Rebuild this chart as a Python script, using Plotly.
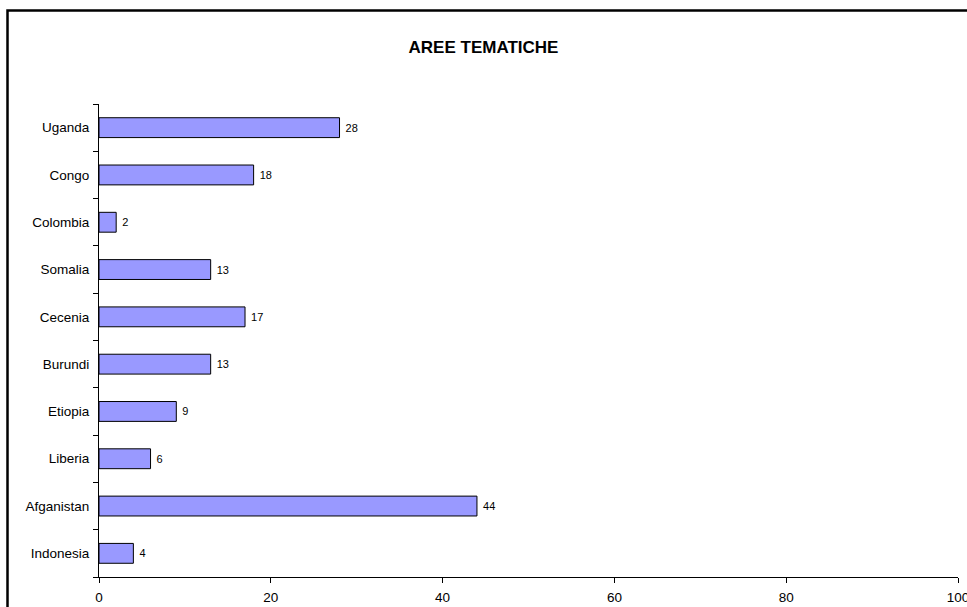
import plotly.graph_objects as go

categories = ["Indonesia", "Afganistan", "Liberia", "Etiopia", "Burundi",
              "Cecenia", "Somalia", "Colombia", "Congo", "Uganda"]
values = [4, 44, 6, 9, 13, 17, 13, 2, 18, 28]
x_ticks = [0, 20, 40, 60, 80, 100]
title_text = "AREE TEMATICHE"

W, H = 967, 607
L, R, T, B = 99, 9, 104, 30
pw, ph = W - L - R, H - T - B

fig = go.Figure(go.Bar(
    y=categories, x=values, orientation="h",
    marker=dict(color="#9999FF", line=dict(color="#000000", width=1)),
    text=[" " + str(v) for v in values], textposition="outside",
    textfont=dict(family="Liberation Sans, Arial", size=11, color="#000"),
    cliponaxis=False,
))

fig.update_layout(
    width=W, height=H,
    margin=dict(l=L, r=R, t=T, b=B, pad=0, autoexpand=False),
    paper_bgcolor="white", plot_bgcolor="white",
    bargap=0.58,
    showlegend=False,
    font=dict(family="Liberation Sans, Arial", size=13.5, color="#000"),
    title=dict(text="<b>" + title_text + "</b>", x=0.5, xanchor="center",
               y=1 - 47 / H, yanchor="middle", yref="container",
               font=dict(family="Liberation Sans, Arial", size=17, color="#000")),
    xaxis=dict(range=[0, 100], tickvals=x_ticks, ticktext=[str(t) for t in x_ticks],
               showgrid=False, zeroline=False, showline=True, linecolor="#000",
               linewidth=1, ticks="outside", ticklen=5, tickcolor="#000",
               tickfont=dict(size=13.5), ticklabelstandoff=3,
               ticklabeloverflow="allow", automargin=False),
    yaxis=dict(showgrid=False, zeroline=False, showline=True, linecolor="#000",
               linewidth=1, ticks="outside", ticklen=5, tickcolor="#000",
               tickson="boundaries", tickfont=dict(size=13.5), ticklabelstandoff=6,
               range=[-0.5, len(categories) - 0.5], automargin=False),
)

fig.add_shape(type="rect", xref="paper", yref="paper",
              x0=(7.5 - L) / pw, x1=1.5,
              y0=-0.5, y1=1 + (T - 10.5) / ph,
              line=dict(color="#000", width=2.5), fillcolor="rgba(0,0,0,0)",
              layer="above")

fig.write_html("out.html")
